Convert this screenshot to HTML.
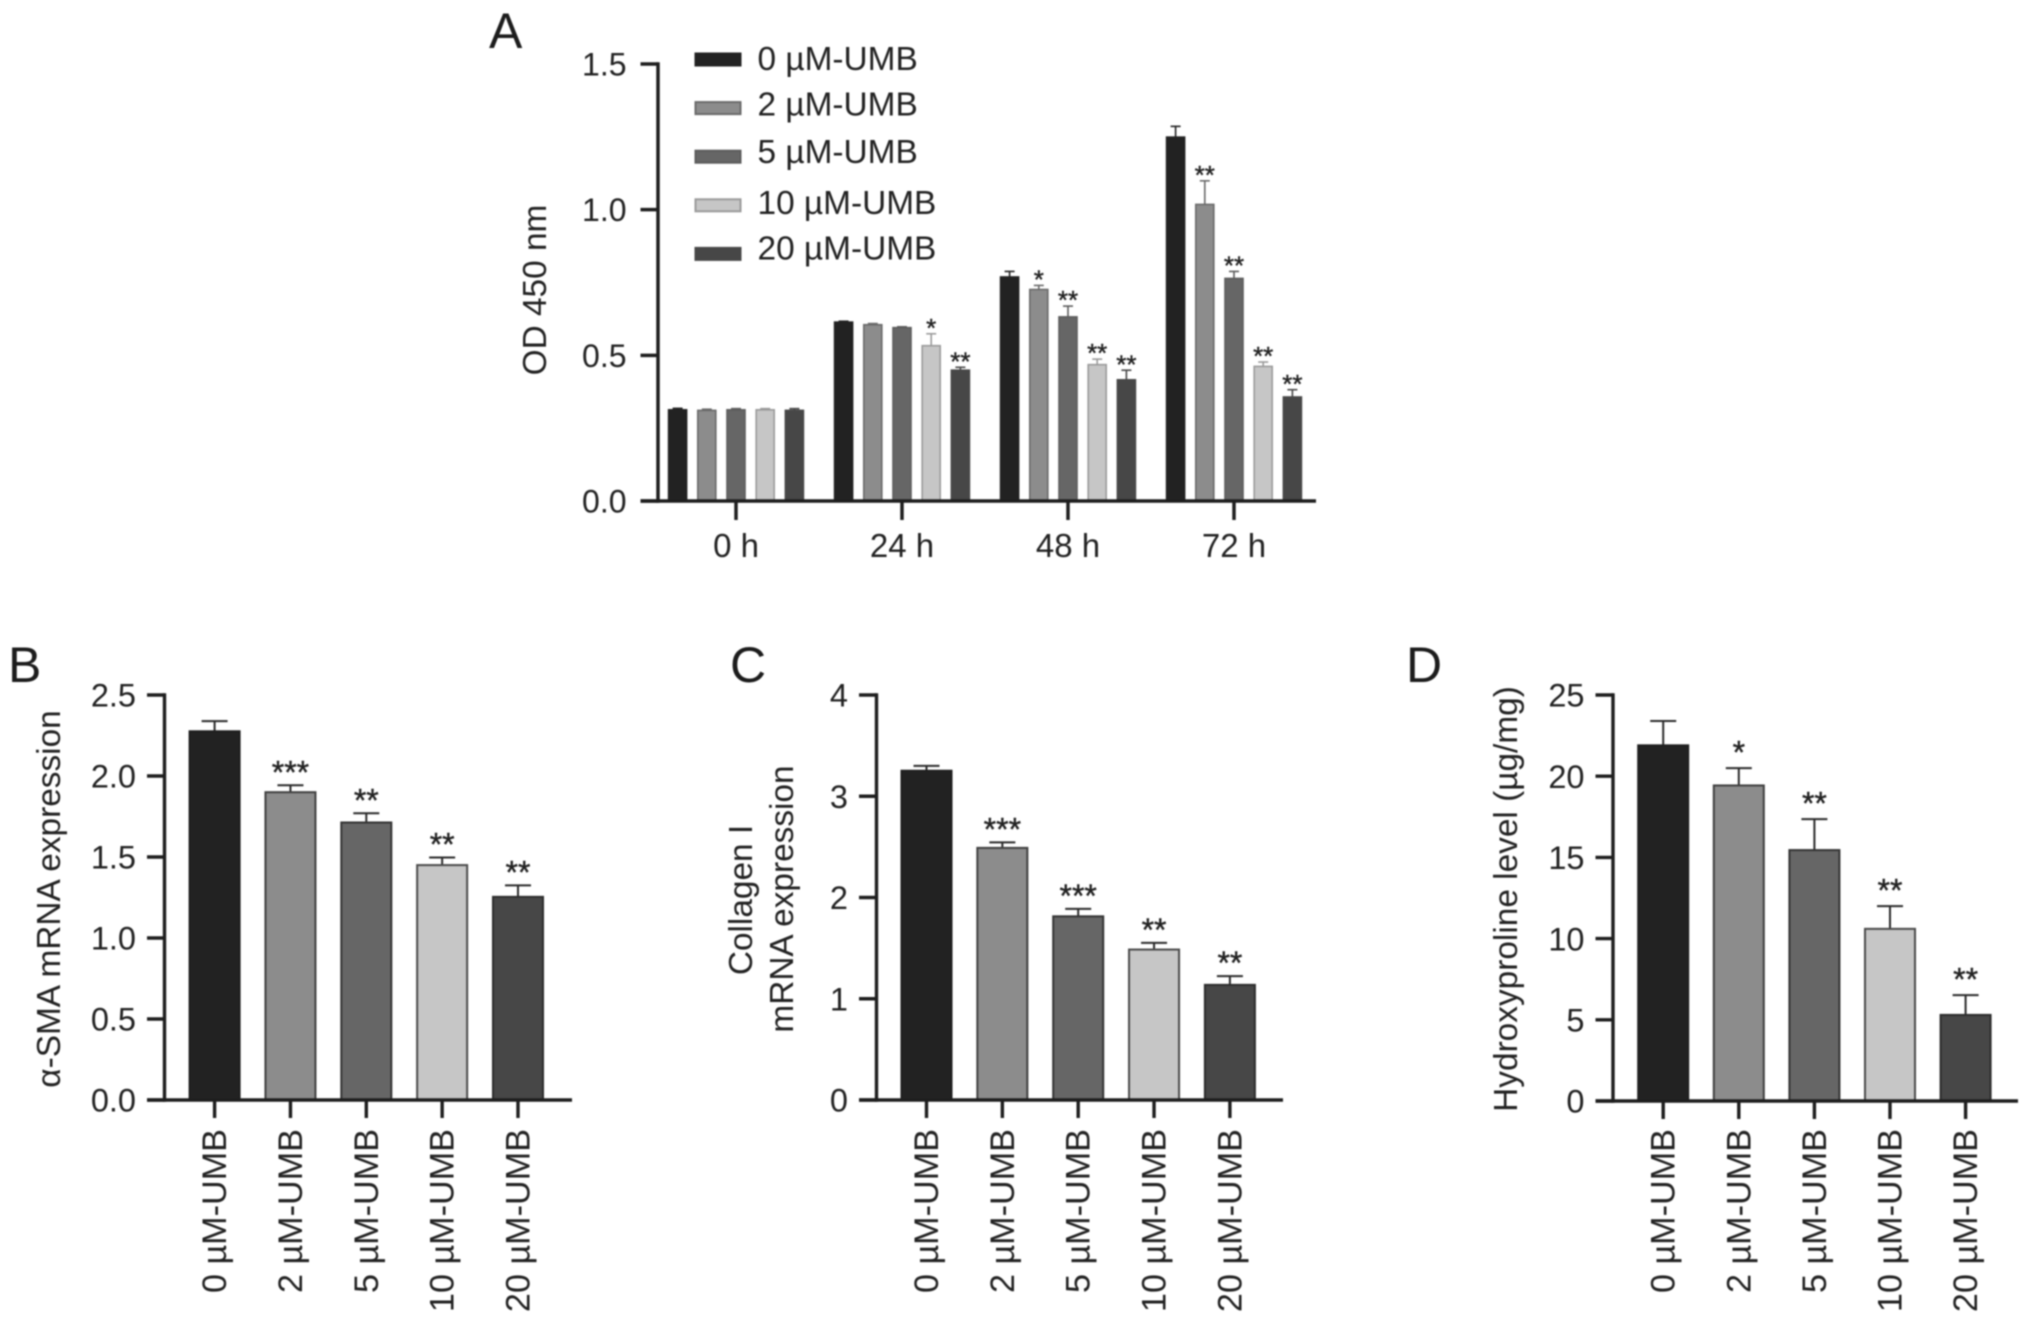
<!DOCTYPE html>
<html lang="en">
<head>
<meta charset="utf-8">
<title>UMB dose-response bar charts</title>
<style>
  html, body { margin: 0; padding: 0; background: #ffffff; }
  #figure { display: block; width: 2032px; height: 1323px; filter: blur(0.7px); }
  text { font-family: "Liberation Sans", "DejaVu Sans", sans-serif; fill: #222222; }
  .panel-letter { font-size: 50px; fill: #1c1c1c; }
  .axis-title { font-size: 33.4px; }
</style>
</head>
<body>
<svg id="figure" xmlns="http://www.w3.org/2000/svg" width="2032" height="1323" viewBox="0 0 2032 1323">
  <rect x="0" y="0" width="2032" height="1323" fill="#ffffff"/>

  <g id="panel-a">
    <text class="panel-letter" x="489" y="48">A</text>
    <text class="axis-title" transform="translate(546 290) rotate(-90)" text-anchor="middle">OD 450 nm</text>
  </g>
  <g id="panel-b">
    <text class="panel-letter" x="8" y="682">B</text>
    <text class="axis-title" transform="translate(60 899) rotate(-90)" text-anchor="middle">α-SMA mRNA expression</text>
  </g>
  <g id="panel-c">
    <text class="panel-letter" x="730" y="682">C</text>
    <text class="axis-title" transform="translate(752 900) rotate(-90)" text-anchor="middle">Collagen I</text>
    <text class="axis-title" transform="translate(793 899) rotate(-90)" text-anchor="middle">mRNA expression</text>
  </g>
  <g id="panel-d">
    <text class="panel-letter" x="1406" y="682">D</text>
    <text class="axis-title" transform="translate(1517 899) rotate(-90)" text-anchor="middle">Hydroxyproline level (µg/mg)</text>
  </g>
  <g id="legend-a"></g>
</svg>

<script>
// ---------- shared categories ----------
const doseLabels = ['0 µM-UMB', '2 µM-UMB', '5 µM-UMB', '10 µM-UMB', '20 µM-UMB'];
const timeLabels = ['0 h', '24 h', '48 h', '72 h'];

// ---------- panel A data (one array per dose, one value per time point) ----------
const aTicks = ['0.0', '0.5', '1.0', '1.5'];
const aTickValues = [0, 0.5, 1, 1.5];
const aDose0 = [0.313, 0.614, 0.769, 1.249];
const aDose2 = [0.311, 0.605, 0.726, 1.018];
const aDose5 = [0.313, 0.595, 0.632, 0.764];
const aDose10 = [0.313, 0.533, 0.468, 0.462];
const aDose20 = [0.311, 0.449, 0.416, 0.357];
const aErr0 = [0.005, 0.003, 0.019, 0.037];
const aErr2 = [0.004, 0.004, 0.014, 0.081];
const aErr5 = [0.004, 0.003, 0.037, 0.024];
const aErr10 = [0.004, 0.041, 0.019, 0.015];
const aErr20 = [0.006, 0.010, 0.033, 0.025];
const aStars0 = ['', '', '', ''];
const aStars2 = ['', '', '*', '**'];
const aStars5 = ['', '', '**', '**'];
const aStars10 = ['', '*', '**', '**'];
const aStars20 = ['', '**', '**', '**'];

// ---------- panel B data ----------
const bTicks = ['0.0', '0.5', '1.0', '1.5', '2.0', '2.5'];
const bTickValues = [0, 0.5, 1, 1.5, 2, 2.5];
const bValues = [2.276, 1.90, 1.713, 1.45, 1.254];
const bErrors = [0.063, 0.043, 0.057, 0.047, 0.071];
const bStars = ['', '***', '**', '**', '**'];

// ---------- panel C data ----------
const cTicks = ['0', '1', '2', '3', '4'];
const cTickValues = [0, 1, 2, 3, 4];
const cValues = [3.252, 2.49, 1.814, 1.486, 1.137];
const cErrors = [0.048, 0.054, 0.074, 0.066, 0.087];
const cStars = ['', '***', '***', '**', '**'];

// ---------- panel D data ----------
const dTicks = ['0', '5', '10', '15', '20', '25'];
const dTickValues = [0, 5, 10, 15, 20, 25];
const dValues = [21.9, 19.43, 15.45, 10.6, 5.3];
const dErrors = [1.5, 1.07, 1.91, 1.4, 1.22];
const dStars = ['', '*', '**', '**', '**'];

// ---------- styling ----------
const seriesFill = ['#222222', '#8c8c8c', '#666666', '#c6c6c6', '#474747'];
const seriesEdgeSingle = ['#1e1e1e', '#3f3f3f', '#333333', '#4a4a4a', '#2c2c2c'];
const seriesEdgeGroup = ['#222222', '#6a6a6a', '#5c5c5c', '#9a9a9a', '#474747'];
const SVGNS = 'http://www.w3.org/2000/svg';

function make(parent, tag, attrs, text) {
  const el = document.createElementNS(SVGNS, tag);
  for (const k in attrs) { el.setAttribute(k, attrs[k]); }
  if (text !== undefined) { el.textContent = text; }
  parent.appendChild(el);
  return el;
}

function linearAxis(domainMax, yZero, yTop) {
  return function (v) { return yZero - (v / domainMax) * (yZero - yTop); };
}

function drawLine(parent, x1, y1, x2, y2, color, width, name) {
  const el = make(parent, 'line', { x1: x1, y1: y1, x2: x2, y2: y2, stroke: color, 'stroke-width': width });
  
  
  return el;
}

function drawLabel(parent, x, y, str, size, anchor, name, transform) {
  const attrs = { x: x, y: y, 'font-size': size, 'text-anchor': anchor };
  if (transform) { attrs.transform = transform; }
  const el = make(parent, 'text', attrs, str);
  
  
  return el;
}

function drawBar(parent, cx, w, value, err, stars, fill, edge, errColor, capW, yScale, yBase, starSize, starGap, barW, prefix) {
  const top = yScale(value);
  const capY = yScale(value + err);
  drawLine(parent, cx, top, cx, capY, errColor, barW, prefix + '-error-stem');
  drawLine(parent, cx - capW / 2, capY, cx + capW / 2, capY, errColor, barW, prefix + '-error-cap');
  const rect = make(parent, 'rect', {
    x: cx - w / 2, y: top, width: w, height: yBase - top,
    fill: fill, stroke: edge, 'stroke-width': barW
  });
  
  
  if (stars) {
    const star = drawLabel(parent, cx, capY - starGap + starSize * 0.58, stars, starSize, 'middle', prefix + '-significance');
    star.setAttribute('stroke', '#222222');
    star.setAttribute('stroke-width', '0.4');
  }
}

function drawYAxis(parent, x, tickLeft, yZero, yScale, values, labels, fontSize, labelGap, lineW, yAxisTop, prefix) {
  drawLine(parent, x, yAxisTop - lineW / 2, x, yZero + lineW / 2, '#1e1e1e', lineW, prefix + '-y-axis-line');
  values.forEach(function (v, i) {
    drawLine(parent, tickLeft, yScale(v), x, yScale(v), '#1e1e1e', lineW, prefix + '-y-tick-' + labels[i]);
    drawLabel(parent, tickLeft - labelGap, yScale(v) + fontSize * 0.36, labels[i], fontSize, 'end', prefix + '-y-tick-label-' + labels[i]);
  });
}

// ---------- panels B, C, D ----------
function drawSinglePanel(id, prefix, geom, tickValues, tickLabels, values, errors, stars) {
  const g = document.getElementById(id);
  const yScale = linearAxis(tickValues[tickValues.length - 1], geom.yZero, geom.yTop);
  const xScale = function (i) { return geom.x0 + i * geom.step; };
  values.forEach(function (v, i) {
    drawBar(g, xScale(i), 50, v, errors[i], stars[i], seriesFill[i], seriesEdgeSingle[i], '#2a2a2a', 26, yScale, geom.yZero, 32, geom.starGap, 2, prefix + '-' + i);
  });
  drawYAxis(g, geom.axisX, geom.tickLeft, geom.yZero, yScale, tickValues, tickLabels, 32.5, 11, 3.4, geom.yTop, prefix);
  drawLine(g, geom.tickLeft, geom.yZero, geom.axisEnd, geom.yZero, '#1e1e1e', 3.4, prefix + '-x-axis-line');
  doseLabels.forEach(function (label, i) {
    const x = xScale(i);
    drawLine(g, x, geom.yZero, x, geom.yZero + 18, '#1e1e1e', 3.4, prefix + '-x-tick-' + i);
    const bx = x + 11.5;
    drawLabel(g, bx, 1129, label, 34.2, 'end', prefix + '-x-tick-label-' + i, 'rotate(-90 ' + bx + ' 1129)');
  });
}

drawSinglePanel('panel-b', 'panel-b',
  { x0: 214.6, step: 75.85, yZero: 1100, yTop: 695, axisX: 164.5, tickLeft: 147, axisEnd: 572, starGap: 20.5 },
  bTickValues, bTicks, bValues, bErrors, bStars);

drawSinglePanel('panel-c', 'panel-c',
  { x0: 926.5, step: 75.85, yZero: 1100, yTop: 695, axisX: 876.5, tickLeft: 859, axisEnd: 1283, starGap: 20.5 },
  cTickValues, cTicks, cValues, cErrors, cStars);

drawSinglePanel('panel-d', 'panel-d',
  { x0: 1663.2, step: 75.6, yZero: 1101, yTop: 695, axisX: 1613, tickLeft: 1595.5, axisEnd: 2018, starGap: 23 },
  dTickValues, dTicks, dValues, dErrors, dStars);

// ---------- panel A ----------
(function () {
  const g = document.getElementById('panel-a');
  const yZero = 501, yTop = 64;
  const yScale = linearAxis(1.5, yZero, yTop);
  const groupX = function (i) { return 736 + i * 166; };
  const barOffset = function (s) { return (s - 2) * 29.2; };
  const doseSeries = [aDose0, aDose2, aDose5, aDose10, aDose20];
  const doseErrors = [aErr0, aErr2, aErr5, aErr10, aErr20];
  const doseStars = [aStars0, aStars2, aStars5, aStars10, aStars20];

  doseSeries.forEach(function (series, s) {
    series.forEach(function (v, t) {
      drawBar(g, groupX(t) + barOffset(s), 18, v, doseErrors[s][t], doseStars[s][t], seriesFill[s], seriesEdgeGroup[s], seriesEdgeGroup[s], 10, yScale, yZero, 26, 12, 1.6, 'panel-a-t' + t + '-d' + s);
    });
  });

  drawYAxis(g, 658, 640.5, yZero, yScale, aTickValues, aTicks, 32, 14, 3.5, yTop, 'panel-a');
  drawLine(g, 640.5, yZero, 1316, yZero, '#1e1e1e', 3.5, 'panel-a-x-axis-line');
  timeLabels.forEach(function (label, t) {
    const x = groupX(t);
    drawLine(g, x, yZero, x, 520, '#1e1e1e', 3.5, 'panel-a-x-tick-' + t);
    drawLabel(g, x, 557, label, 33, 'middle', 'panel-a-x-tick-label-' + t);
  });

  const legend = document.getElementById('legend-a');
  const rowTextShift = [-1, -4, -5, -3, -6];
  doseLabels.forEach(function (label, s) {
    const cy = 59.5 + s * 48.6;
    const swatch = make(legend, 'rect', { x: 695.5, y: cy - 6, width: 45, height: 12, fill: seriesFill[s], stroke: seriesEdgeGroup[s], 'stroke-width': 2 });
    
    
    drawLabel(legend, 757.5, cy + 11.5 + rowTextShift[s], label, 33.4, 'start', 'legend-label-' + s);
  });
})();
</script>
</body>
</html>
